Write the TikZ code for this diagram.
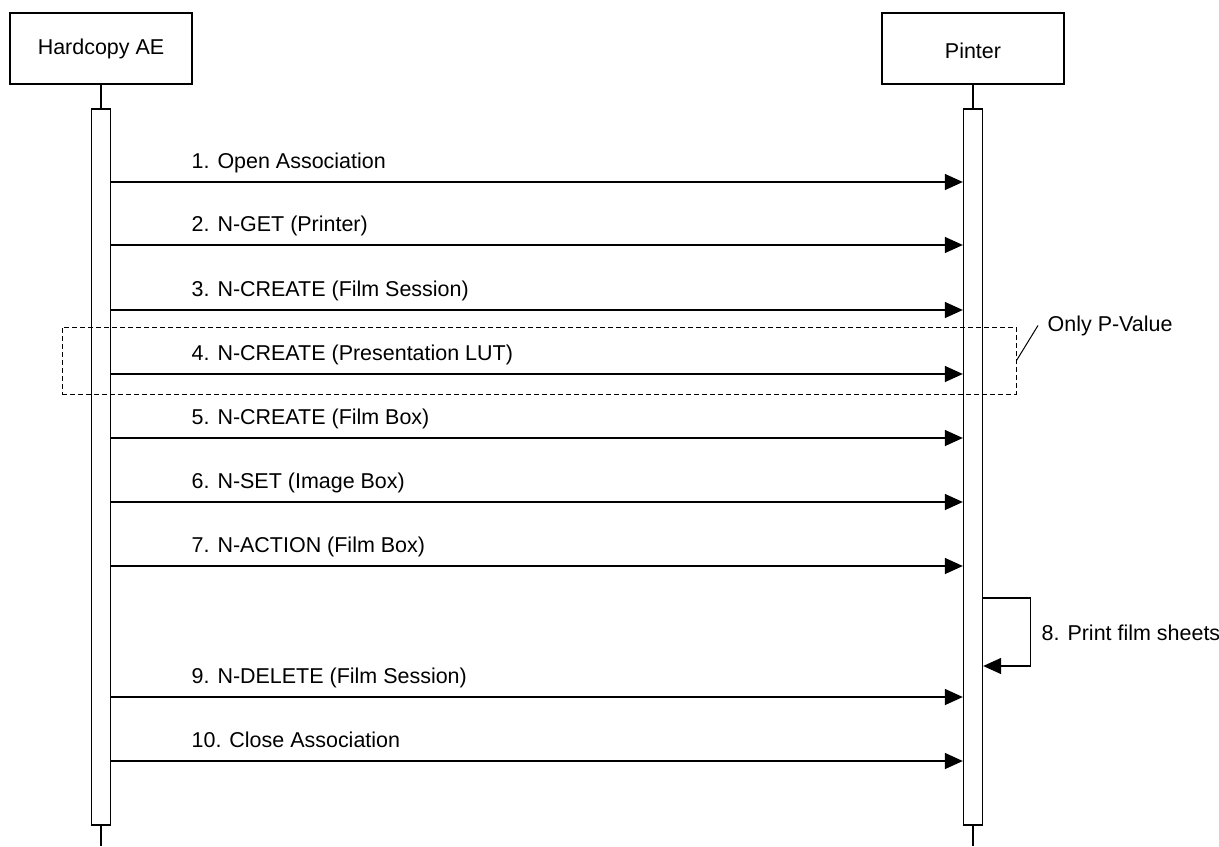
\documentclass[tikz,border=0pt]{standalone}
\usepackage{fontspec}
\setmainfont{Liberation Sans}
\usetikzlibrary{arrows.meta,positioning}

\tikzset{every picture/.style={line width=1pt}}
\tikzset{
  actor/.style={draw, fill=white, minimum width=136.5pt, minimum height=53.25pt, inner sep=0.75pt},
  lifebar/.style={draw, fill=white, minimum width=14.25pt, minimum height=537pt, inner sep=0pt},
  msg/.style={-{Triangle[length=13.5pt,width=12pt]}},
  msglabel/.style={anchor=base west, inner sep=0pt},
  notebox/.style={draw, dash pattern=on 3.75pt off 2.25pt, line width=0.75pt, inner sep=0pt},
}

\begin{document}
\begin{tikzpicture}[x=0.75pt,y=0.75pt,yscale=-1,xscale=1,font=\fontsize{16.1}{19}\selectfont]
\useasboundingbox (0,0) rectangle (1219,846);

%Shape: Rectangle [actors]
\node[actor] (hcae) at (101,48.5) {Hardcopy AE};
\node[actor] (pinter) at (973,48.5) {};
% Text Node
\node[inner sep=0pt] (pintertxt) at (973,50.5) {Pinter};

%Shape: Rectangle [activation bars]
\node[lifebar] (barA) at (101,467) {};
\node[lifebar] (barB) at (973,467) {};

%Straight Lines [lifelines]
\coordinate (endA) at (101,846);
\coordinate (endB) at (973,846);
\draw (hcae.south) -- (barA.north);
\draw (pinter.south) -- (barB.north);
\draw (barA.south) -- (endA);
\draw (barB.south) -- (endB);

%Straight Lines [messages]
\foreach \y/\txt in {182/1. Open Association,245/2. N-GET (Printer),310/3. N-CREATE (Film Session),374/4. N-CREATE (Presentation LUT),438/5. N-CREATE (Film Box),502/6. N-SET (Image Box),566/7. N-ACTION (Film Box),697/9. N-DELETE (Film Session),761/10. Close Association}{
  \draw[msg] (barA.east |- 0,\y) -- (barB.west |- 0,\y);
  \node[msglabel] (lbl\y) at (191,\y-14) {\txt};
}

%Self message
\draw[msg] (barB.east |- 0,598) -- ++(47,0) |- (barB.east |- 0,666);
% Text Node
\node[anchor=west, inner sep=0pt] (prt) at (1041,633) {8. Print film sheets};

%Shape: Rectangle [dashed note]
\node[notebox, minimum width=715.5pt, minimum height=50.25pt] (lutbox) at (539,360.5) {};
% Text Node
\node[msglabel] (pval) at (1047,331) {Only P-Value};
\draw[line width=0.75pt] (lutbox.east) -- ([xshift=-6.75pt]pval.west);

\end{tikzpicture}
\end{document}
